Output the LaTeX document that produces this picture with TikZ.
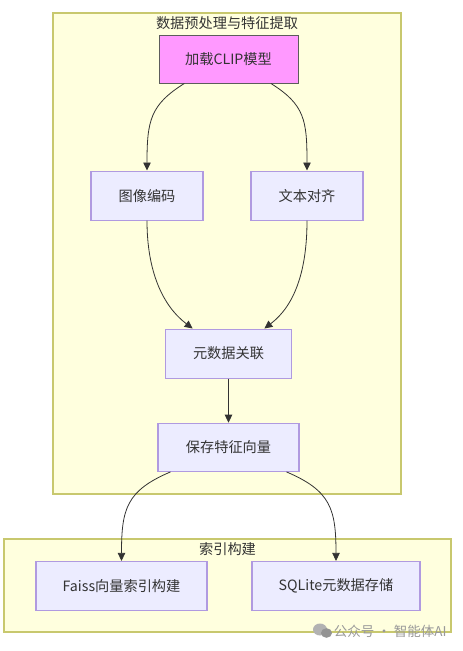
\documentclass[tikz,border=0pt]{standalone}
\usepackage{xcolor}
\usepackage{fontspec}
\setmainfont{Noto Sans CJK SC}
\usetikzlibrary{arrows.meta, positioning, calc}
\definecolor{groupfill}{RGB}{255,255,222}
\definecolor{groupline}{RGB}{200,200,110}
\definecolor{boxfill}{RGB}{236,236,255}
\definecolor{boxline}{RGB}{176,154,224}
\definecolor{loadfill}{RGB}{255,153,255}
\definecolor{inkline}{RGB}{51,51,51}

\begin{document}
\begin{tikzpicture}[
  x=1pt, y=1pt,
  every node/.style={font=\fontsize{14.2}{17}\selectfont, text=inkline},
  group/.style={
    rectangle, draw=groupline, line width=1.3pt, fill=groupfill,
    minimum width=#1, inner sep=0pt
  },
  flowbox/.style={
    rectangle, draw=boxline, line width=1.2pt, fill=boxfill,
    minimum width=#1, minimum height=49pt, inner sep=0pt, text centered
  },
  loadbox/.style={
    flowbox=#1, draw=inkline!80, line width=1pt, fill=loadfill
  },
  arrow/.style={-{Triangle[length=8pt, width=7.5pt]}, line width=0.8pt, draw=inkline}
]
\useasboundingbox (0,0) rectangle (463,-651);

\node[group=348pt, minimum height=481pt] (prep) at (227,-253.5) {};
\node[group=447pt, minimum height=93pt] (index) at (227.5,-585.5) {};
\node[below=1pt of prep.north] (preptitle) {数据预处理与特征提取};
\node[below=1pt of index.north] (indextitle) {索引构建};

\node[loadbox=139pt, minimum height=48pt] (clip) at (228.5,-59) {加载CLIP模型};
\node[flowbox=112pt, below=87pt of clip, xshift=-81.5pt] (image) {图像编码};
\node[flowbox=112pt, below=87pt of clip, xshift=78.5pt] (text) {文本对齐};
\node[flowbox=126pt, below=245pt of clip] (meta) {元数据关联};
\node[flowbox=141pt, below=44pt of meta, minimum height=48pt] (save) {保存特征向量};
\node[flowbox=171pt, below=89pt of save, xshift=-107pt] (faiss) {Faiss向量索引构建};
\node[flowbox=168pt, below=89pt of save, xshift=107.5pt] (sqlite) {SQLite元数据存储};

\node[anchor=east, text=black!40, font=\fontsize{13.5}{16}\selectfont] (mark) at (450,-631) {公众号 · 智能体AI};
\fill[black!30] (320,-629.5) ellipse (7pt and 6pt);
\fill[black!42] (326.5,-633) ellipse (5.5pt and 4.8pt);

\draw[arrow] (clip.209.5) to[out=-148, in=90, out distance=40pt, in distance=50pt] (image.north);
\draw[arrow] (clip.-30) to[out=-32, in=90, out distance=40pt, in distance=50pt] (text.north);
\draw[arrow] (image.south) to[out=-90, in=143, out distance=50pt, in distance=38pt] (meta.145.8);
\draw[arrow] (text.south) to[out=-90, in=37, out distance=50pt, in distance=38pt] (meta.35.8);
\draw[arrow] (meta) -- (save);
\draw[arrow] (save.203.6) to[out=-157, in=90, out distance=48pt, in distance=52pt] (faiss.north);
\draw[arrow] (save.-23) to[out=-23, in=90, out distance=48pt, in distance=52pt] (sqlite.north);

\end{tikzpicture}
\end{document}
